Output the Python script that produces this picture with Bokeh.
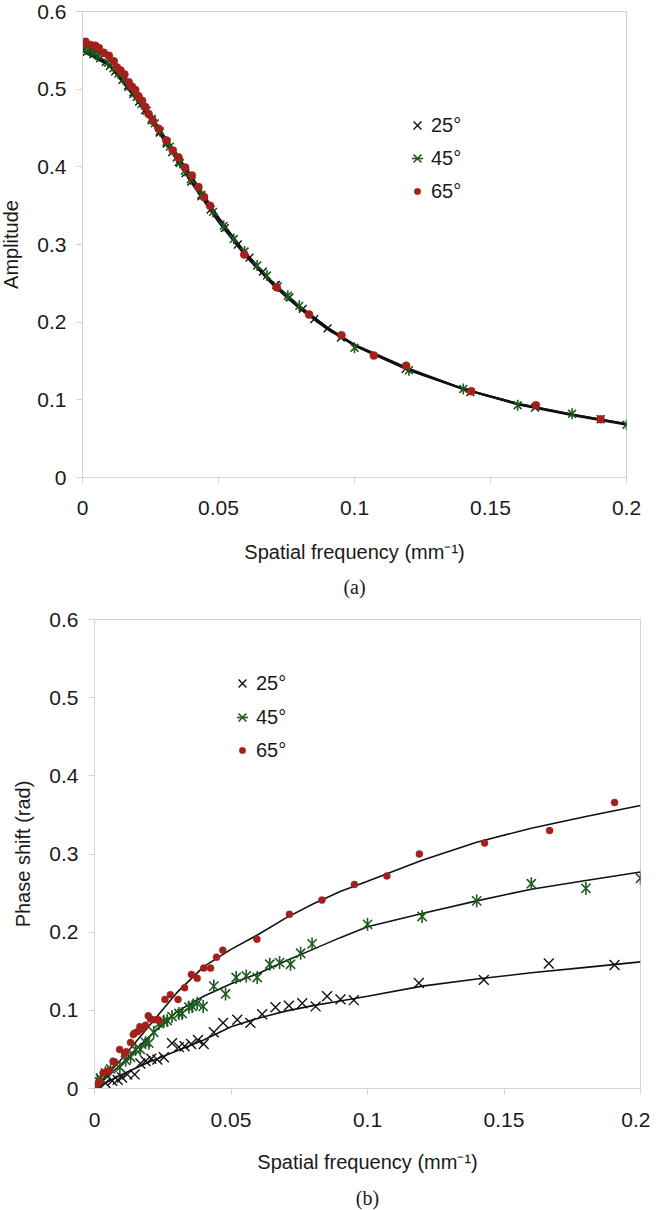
import numpy as np
from bokeh.plotting import figure
from bokeh.layouts import column
from bokeh.models import FixedTicker, Range1d, Legend, LegendItem, Title
from bokeh.embed import file_html
from bokeh.resources import INLINE

# ---------------- Panel (a): Amplitude ----------------
amp_f_25 = [0.0016, 0.004, 0.0065, 0.0085, 0.0101, 0.012, 0.0147, 0.0168, 0.0187, 0.0208,
            0.023, 0.0254, 0.0284, 0.0309, 0.033, 0.0354, 0.0379, 0.04, 0.0437, 0.0471,
            0.0523, 0.0571, 0.0614, 0.0663, 0.0712, 0.0761, 0.081, 0.0852, 0.0901, 0.095,
            0.1188, 0.1426, 0.1664, 0.1905]
amp_v_25 = [0.548, 0.545, 0.540, 0.535, 0.530, 0.523, 0.512, 0.503, 0.494, 0.484,
            0.473, 0.460, 0.444, 0.430, 0.419, 0.406, 0.392, 0.381, 0.362, 0.345,
            0.321, 0.300, 0.283, 0.265, 0.248, 0.232, 0.217, 0.204, 0.192, 0.180,
            0.140, 0.110, 0.090, 0.075]
amp_f_45 = [0.001, 0.0022, 0.004, 0.0059, 0.0093, 0.0114, 0.0132, 0.015, 0.0168, 0.0187,
            0.0199, 0.0217, 0.0236, 0.0254, 0.0266, 0.0284, 0.0309, 0.0321, 0.0346, 0.0358,
            0.0376, 0.0398, 0.0437, 0.048, 0.0519, 0.0556, 0.0596, 0.0642, 0.0678, 0.0718,
            0.0755, 0.0797, 0.1, 0.12, 0.14, 0.16, 0.18, 0.2]
amp_v_45 = [0.551, 0.550, 0.547, 0.543, 0.534, 0.527, 0.520, 0.513, 0.505, 0.496,
            0.490, 0.481, 0.472, 0.462, 0.456, 0.446, 0.432, 0.426, 0.412, 0.405,
            0.395, 0.384, 0.364, 0.342, 0.324, 0.307, 0.291, 0.273, 0.260, 0.246,
            0.234, 0.221, 0.167, 0.138, 0.114, 0.093, 0.082, 0.068]
amp_f_65 = [0.0, 0.0011, 0.0029, 0.0047, 0.006, 0.0078, 0.0097, 0.0115, 0.0127, 0.014,
            0.0154, 0.017, 0.0182, 0.0194, 0.0206, 0.0219, 0.0231, 0.0243, 0.0259, 0.028,
            0.0308, 0.0332, 0.0353, 0.0377, 0.0402, 0.0426, 0.0447, 0.0469, 0.0595, 0.0714,
            0.0833, 0.0952, 0.1071, 0.119, 0.1429, 0.1667, 0.1905]
amp_v_65 = [0.559, 0.561, 0.557, 0.556, 0.553, 0.547, 0.543, 0.536, 0.528, 0.524,
            0.519, 0.509, 0.503, 0.499, 0.491, 0.485, 0.477, 0.468, 0.459, 0.449,
            0.434, 0.421, 0.412, 0.399, 0.389, 0.374, 0.361, 0.350, 0.287, 0.245,
            0.210, 0.183, 0.157, 0.144, 0.111, 0.093, 0.075]
fit_f = [0, 0.01, 0.02, 0.03, 0.04, 0.05, 0.06, 0.07, 0.08, 0.09, 0.1, 0.12, 0.14, 0.16, 0.18, 0.2]
amp_fit_25 = [0.549, 0.530, 0.486, 0.434, 0.380, 0.329, 0.285, 0.248, 0.217, 0.191, 0.170, 0.139, 0.114, 0.094, 0.080, 0.068]
amp_fit_45 = [0.552, 0.532, 0.490, 0.437, 0.383, 0.333, 0.289, 0.251, 0.220, 0.193, 0.170, 0.138, 0.114, 0.095, 0.081, 0.069]
amp_fit_65 = [0.558, 0.540, 0.495, 0.440, 0.388, 0.335, 0.288, 0.250, 0.219, 0.193, 0.171, 0.140, 0.114, 0.095, 0.081, 0.069]

# ---------------- Panel (b): Phase shift ----------------
ph_f_25 = amp_f_25
ph_v_25 = [0.001, 0.007, 0.010, 0.011, 0.014, 0.018, 0.018, 0.032, 0.035, 0.038,
           0.037, 0.040, 0.058, 0.053, 0.054, 0.057, 0.062, 0.057, 0.072, 0.084,
           0.088, 0.084, 0.095, 0.104, 0.106, 0.109, 0.105, 0.118, 0.114, 0.113,
           0.135, 0.139, 0.160, 0.158]
ph_f_45 = amp_f_45
ph_v_45 = [0.011, 0.013, 0.020, 0.025, 0.027, 0.036, 0.040, 0.050, 0.050, 0.059,
           0.058, 0.072, 0.083, 0.086, 0.087, 0.092, 0.096, 0.096, 0.104, 0.105,
           0.109, 0.105, 0.131, 0.121, 0.142, 0.144, 0.142, 0.159, 0.161, 0.159,
           0.173, 0.185, 0.210, 0.220, 0.240, 0.262, 0.256, 0.269]
ph_f_65 = [0.0004, 0.0012, 0.002, 0.0032, 0.0046, 0.0056, 0.0068, 0.0074, 0.0092, 0.011,
           0.0116, 0.0132, 0.0142, 0.0147, 0.0159, 0.0166, 0.0175, 0.0187, 0.0197, 0.0205,
           0.0217, 0.023, 0.0236, 0.0258, 0.0278, 0.0306, 0.033, 0.0355, 0.0376, 0.040,
           0.0425, 0.0447, 0.047, 0.0595, 0.0714, 0.0833, 0.0952, 0.1071, 0.119, 0.1429,
           0.1667, 0.1905]
ph_v_65 = [0.004, 0.006, 0.009, 0.020, 0.022, 0.023, 0.035, 0.034, 0.050, 0.044,
           0.047, 0.059, 0.069, 0.071, 0.073, 0.079, 0.076, 0.081, 0.093, 0.089,
           0.088, 0.088, 0.087, 0.114, 0.120, 0.114, 0.129, 0.146, 0.141, 0.154,
           0.154, 0.168, 0.177, 0.191, 0.223, 0.241, 0.261, 0.272, 0.300, 0.314,
           0.330, 0.366]
ph_fit_25 = [0, 0.018, 0.034, 0.048, 0.062, 0.079, 0.090, 0.099, 0.106, 0.112, 0.118, 0.131, 0.140, 0.148, 0.155, 0.162]
ph_fit_45 = [0, 0.032, 0.066, 0.098, 0.118, 0.134, 0.147, 0.163, 0.178, 0.193, 0.207, 0.224, 0.240, 0.255, 0.266, 0.277]
ph_fit_65 = [0, 0.038, 0.080, 0.122, 0.156, 0.178, 0.197, 0.218, 0.236, 0.252, 0.265, 0.292, 0.315, 0.333, 0.348, 0.362]

x_ticks = [0, 0.05, 0.1, 0.15, 0.2]
x_tick_labels = ["0", "0.05", "0.1", "0.15", "0.2"]
y_ticks = [0, 0.1, 0.2, 0.3, 0.4, 0.5, 0.6]
y_tick_labels = ["0", "0.1", "0.2", "0.3", "0.4", "0.5", "0.6"]
series_labels = ["25°", "45°", "65°"]

BLACK = "#111111"
GREEN = "#1c5a1f"
RED = "#a3201b"
GRID = "#d4d4d4"
FONT = "Liberation Sans"


def make_fig(frame_h, b_top, b_left, b_right, ylabel, ylabel_standoff,
             tick_standoff, xlabel_standoff, panel_tag, tag_standoff):
    p = figure(frame_width=546, frame_height=frame_h,
               x_range=Range1d(0, 0.2), y_range=Range1d(0, 0.6),
               output_backend="svg", toolbar_location=None,
               min_border_top=b_top, min_border_left=b_left,
               min_border_right=b_right, min_border_bottom=0,
               background_fill_color="white", border_fill_color="white")
    p.xgrid.visible = False
    p.ygrid.visible = False
    p.outline_line_color = GRID
    p.outline_line_width = 1
    for ax in (p.xaxis[0], p.yaxis[0]):
        ax.axis_line_color = GRID
        ax.major_tick_line_color = GRID
        ax.minor_tick_line_color = None
        ax.major_tick_out = 6
        ax.major_tick_in = 0
        ax.major_label_text_font = FONT
        ax.major_label_text_font_size = "21px"
        ax.major_label_text_color = "#1a1a1a"
        ax.axis_label_text_font = FONT
        ax.axis_label_text_font_size = "20px"
        ax.axis_label_text_font_style = "normal"
        ax.axis_label_text_color = "#1a1a1a"
    p.xaxis.ticker = FixedTicker(ticks=x_ticks)
    p.xaxis.major_label_overrides = {t: s for t, s in zip(x_ticks, x_tick_labels)}
    p.yaxis.ticker = FixedTicker(ticks=y_ticks)
    p.yaxis.major_label_overrides = {t: s for t, s in zip(y_ticks, y_tick_labels)}
    p.xaxis.major_label_standoff = tick_standoff
    p.yaxis.major_label_standoff = 10
    p.xaxis.axis_label = "Spatial frequency (mm⁻¹)"
    p.xaxis.axis_label_standoff = xlabel_standoff
    p.yaxis.axis_label = ylabel
    p.yaxis.axis_label_standoff = ylabel_standoff
    p.add_layout(Title(text=panel_tag, align="center", text_font="Liberation Serif",
                       text_font_size="20px", text_font_style="normal",
                       text_color="#1a1a1a", standoff=tag_standoff), "below")
    return p


def one_legend(label, renderers, loc, gw, standoff):
    return Legend(items=[LegendItem(label=label, renderers=renderers)],
                  location=loc, orientation="vertical",
                  background_fill_alpha=0, border_line_color=None,
                  padding=0, margin=0, spacing=0,
                  glyph_width=gw, glyph_height=28, label_height=28,
                  label_standoff=standoff,
                  label_text_font=FONT, label_text_font_size="20px",
                  label_text_color="#1a1a1a")


def add_series(p, f25, v25, f45, v45, f65, v65, fitf, fit25, fit45, fit65,
               xs, gs, rs, lw, lx, ly):
    for fv in (fit25, fit45, fit65):
        p.line(fitf, fv, line_color=BLACK, line_width=lw)
    r25 = p.scatter(f25, v25, marker="x", size=xs, line_color=BLACK, line_width=1.4)
    r45a = p.scatter(f45, v45, marker="x", size=gs, line_color=GREEN, line_width=1.6)
    r45b = p.scatter(f45, v45, marker="dash", angle=np.pi / 2, size=gs,
                     line_color=GREEN, line_width=1.6)
    r65 = p.scatter(f65, v65, marker="circle", size=rs, fill_color=RED,
                    line_color=RED, line_width=0.5)
    # lx: marker centre (px from frame left); ly: item centres (px from frame bottom)
    p.add_layout(one_legend(series_labels[0], [r25], (lx - 14, ly[0] - 14), 28, 0), "center")
    p.add_layout(one_legend(series_labels[1], [r45a, r45b], (lx - 14, ly[1] - 14), 28, 0), "center")
    p.add_layout(one_legend(series_labels[2], [r65], (lx - 8, ly[2] - 14), 16, 6), "center")


pa = make_fig(466, 11, 86, 20, "Amplitude", 12, 17, 23, "(a)", 17)
pa.margin = (0, 0, 0, -4)
add_series(pa, amp_f_25, amp_v_25, amp_f_45, amp_v_45, amp_f_65, amp_v_65,
           fit_f, amp_fit_25, amp_fit_45, amp_fit_65, 11, 11, 8, 2.0,
           335, (352, 319, 286))

pb = make_fig(469, 13, 86, 10, "Phase shift (rad)", 12, 18, 21, "(b)", 18)
pb.margin = (0, 0, 0, 8)
add_series(pb, ph_f_25, ph_v_25, ph_f_45, ph_v_45, ph_f_65, ph_v_65,
           fit_f, ph_fit_25, ph_fit_45, ph_fit_65, 14, 13, 7, 1.6,
           148, (405, 371, 338))

layout = column(pa, pb, spacing=0)
open("out.html", "w").write(file_html(layout, INLINE))
